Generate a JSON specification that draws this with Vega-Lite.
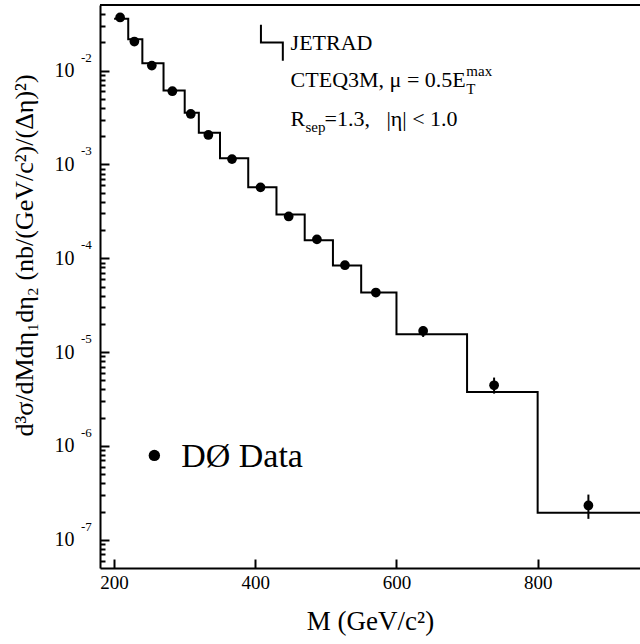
{
  "$schema": "https://vega.github.io/schema/vega-lite/v6.json",
  "width": 540,
  "height": 563,
  "autosize": {"type": "none"},
  "padding": {"left": 100, "top": 5, "right": 0, "bottom": 76},
  "config": {
    "view": {"stroke": null},
    "font": "Liberation Serif",
    "axis": {"grid": false, "domainColor": "black", "domainWidth": 2, "tickColor": "black", "tickWidth": 2, "labelColor": "black", "titleColor": "black", "labelFont": "Liberation Serif", "titleFont": "Liberation Serif", "titleFontWeight": "normal"}
  },
  "data": {"values": [{}]},
  "datasets": {
    "theory": [
      {"lo": 200, "hi": 220, "sigma": 0.0356},
      {"lo": 220, "hi": 240, "sigma": 0.0216},
      {"lo": 240, "hi": 270, "sigma": 0.0120},
      {"lo": 270, "hi": 300, "sigma": 0.00612},
      {"lo": 300, "hi": 320, "sigma": 0.00356},
      {"lo": 320, "hi": 350, "sigma": 0.00218},
      {"lo": 350, "hi": 390, "sigma": 0.00116},
      {"lo": 390, "hi": 430, "sigma": 0.000570},
      {"lo": 430, "hi": 470, "sigma": 0.000293},
      {"lo": 470, "hi": 510, "sigma": 0.000156},
      {"lo": 510, "hi": 550, "sigma": 0.0000838},
      {"lo": 550, "hi": 600, "sigma": 0.0000431},
      {"lo": 600, "hi": 700, "sigma": 0.0000155},
      {"lo": 700, "hi": 800, "sigma": 0.00000375},
      {"lo": 800, "hi": 1000, "sigma": 0.000000194}
    ],
    "d0": [
      {"m": 208.5, "val": 0.0368, "lo": 0.0362, "hi": 0.0374},
      {"m": 228.7, "val": 0.0204, "lo": 0.0200, "hi": 0.0208},
      {"m": 253.4, "val": 0.0113, "lo": 0.0111, "hi": 0.0115},
      {"m": 282.5, "val": 0.00603, "lo": 0.00592, "hi": 0.00614},
      {"m": 308.6, "val": 0.00345, "lo": 0.00338, "hi": 0.00352},
      {"m": 333.5, "val": 0.00206, "lo": 0.00202, "hi": 0.00210},
      {"m": 367.0, "val": 0.00114, "lo": 0.00112, "hi": 0.00116},
      {"m": 407.4, "val": 0.000570, "lo": 0.000558, "hi": 0.000582},
      {"m": 447.3, "val": 0.000279, "lo": 0.000272, "hi": 0.000286},
      {"m": 487.3, "val": 0.000159, "lo": 0.000155, "hi": 0.000163},
      {"m": 527.0, "val": 0.0000843, "lo": 0.0000815, "hi": 0.0000871},
      {"m": 570.8, "val": 0.0000431, "lo": 0.0000405, "hi": 0.0000460},
      {"m": 637.8, "val": 0.0000168, "lo": 0.0000145, "hi": 0.0000188},
      {"m": 738.3, "val": 0.00000443, "lo": 0.00000361, "hi": 0.00000535},
      {"m": 871.9, "val": 0.000000232, "lo": 0.000000167, "hi": 0.000000303}
    ],
    "exps": [
      {"v": 0.01, "e": "-2"},
      {"v": 0.001, "e": "-3"},
      {"v": 0.0001, "e": "-4"},
      {"v": 0.00001, "e": "-5"},
      {"v": 0.000001, "e": "-6"},
      {"v": 0.0000001, "e": "-7"}
    ],
    "glyph": [
      {"k": 1, "m": 408, "s": 0.0308},
      {"k": 2, "m": 408, "s": 0.0199},
      {"k": 3, "m": 439, "s": 0.0199},
      {"k": 4, "m": 439, "s": 0.0127}
    ]
  },
  "layer": [
    {
      "data": {"name": "theory"},
      "transform": [{"fold": ["lo", "hi"], "as": ["edge", "m"]}],
      "mark": {"type": "line", "color": "black", "strokeWidth": 2, "clip": true},
      "encoding": {
        "x": {
          "field": "m", "type": "quantitative",
          "scale": {"domain": [180, 945], "nice": false, "zero": false},
          "axis": {"values": [200, 400, 600, 800], "tickSize": -9, "labelFontSize": 19, "labelPadding": 14, "title": "M (GeV/c²)", "titleFontSize": 27, "titleBaseline": "alphabetic", "titleY": 61}
        },
        "y": {
          "field": "sigma", "type": "quantitative",
          "scale": {"type": "log", "domain": [5e-8, 5e-2], "nice": false},
          "axis": {
            "values": [6e-8, 7e-8, 8e-8, 9e-8, 1e-7, 2e-7, 3e-7, 4e-7, 5e-7, 6e-7, 7e-7, 8e-7, 9e-7, 1e-6, 2e-6, 3e-6, 4e-6, 5e-6, 6e-6, 7e-6, 8e-6, 9e-6, 1e-5, 2e-5, 3e-5, 4e-5, 5e-5, 6e-5, 7e-5, 8e-5, 9e-5, 1e-4, 2e-4, 3e-4, 4e-4, 5e-4, 6e-4, 7e-4, 8e-4, 9e-4, 1e-3, 2e-3, 3e-3, 4e-3, 5e-3, 6e-3, 7e-3, 8e-3, 9e-3, 1e-2, 2e-2, 3e-2, 4e-2],
            "labelExpr": "abs(log(datum.value)/LN10 - round(log(datum.value)/LN10)) < 0.01 ? '10' : ''",
            "tickSize": {"condition": {"test": "abs(log(datum.value)/LN10 - round(log(datum.value)/LN10)) < 0.01", "value": -9}, "value": -5},
            "labelFontSize": 20, "labelPadding": 35, "labelOverlap": false,
            "title": "d³σ/dMdη₁dη₂ (nb/(GeV/c²)/(Δη)²)", "titleFontSize": 26, "titleAngle": -90, "titleBaseline": "alphabetic", "titleAlign": "center", "titleX": -68, "titleY": 250
          }
        },
        "order": [{"field": "m", "type": "quantitative"}, {"field": "sigma", "type": "quantitative", "sort": "descending"}]
      }
    },
    {
      "mark": {"type": "rule", "color": "black", "strokeWidth": 2},
      "encoding": {"y": {"datum": 0.05}}
    },
    {
      "data": {"name": "d0"},
      "mark": {"type": "rule", "color": "black", "strokeWidth": 2},
      "encoding": {
        "x": {"field": "m", "type": "quantitative"},
        "y": {"field": "lo", "type": "quantitative"},
        "y2": {"field": "hi"}
      }
    },
    {
      "data": {"name": "d0"},
      "mark": {"type": "circle", "color": "black", "opacity": 1, "size": 95},
      "encoding": {
        "x": {"field": "m", "type": "quantitative"},
        "y": {"field": "val", "type": "quantitative"}
      }
    },
    {
      "data": {"name": "exps"},
      "mark": {"type": "text", "align": "left", "baseline": "middle", "fontSize": 13, "dx": -19, "dy": -13, "color": "black"},
      "encoding": {
        "x": {"datum": 180},
        "y": {"field": "v", "type": "quantitative"},
        "text": {"field": "e"}
      }
    },
    {
      "data": {"name": "glyph"},
      "mark": {"type": "line", "color": "black", "strokeWidth": 2},
      "encoding": {
        "x": {"field": "m", "type": "quantitative"},
        "y": {"field": "s", "type": "quantitative"},
        "order": {"field": "k", "type": "quantitative"}
      }
    },
    {
      "mark": {"type": "text", "align": "left", "baseline": "alphabetic", "fontSize": 22, "color": "black", "text": "JETRAD"},
      "encoding": {"x": {"datum": 450}, "y": {"datum": 0.01663}}
    },
    {
      "mark": {"type": "text", "align": "left", "baseline": "alphabetic", "fontSize": 22, "color": "black", "text": "CTEQ3M, μ = 0.5E"},
      "encoding": {"x": {"datum": 450}, "y": {"datum": 0.00665}}
    },
    {
      "mark": {"type": "text", "align": "left", "baseline": "alphabetic", "fontSize": 15, "color": "black", "text": "max"},
      "encoding": {"x": {"datum": 699}, "y": {"datum": 0.00878}}
    },
    {
      "mark": {"type": "text", "align": "left", "baseline": "alphabetic", "fontSize": 15, "color": "black", "text": "T"},
      "encoding": {"x": {"datum": 699}, "y": {"datum": 0.00564}}
    },
    {
      "mark": {"type": "text", "align": "left", "baseline": "alphabetic", "fontSize": 22, "color": "black", "text": "R"},
      "encoding": {"x": {"datum": 450}, "y": {"datum": 0.00257}}
    },
    {
      "mark": {"type": "text", "align": "left", "baseline": "alphabetic", "fontSize": 15, "color": "black", "text": "sep"},
      "encoding": {"x": {"datum": 471}, "y": {"datum": 0.00222}}
    },
    {
      "mark": {"type": "text", "align": "left", "baseline": "alphabetic", "fontSize": 22, "color": "black", "text": "=1.3,\u00a0\u00a0\u00a0|η| < 1.0"},
      "encoding": {"x": {"datum": 498}, "y": {"datum": 0.00257}}
    },
    {
      "mark": {"type": "circle", "color": "black", "opacity": 1, "size": 130},
      "encoding": {"x": {"datum": 257}, "y": {"datum": 7.92e-7}}
    },
    {
      "mark": {"type": "text", "align": "left", "baseline": "alphabetic", "fontSize": 34, "color": "black", "text": "DØ Data"},
      "encoding": {"x": {"datum": 295}, "y": {"datum": 5.94e-7}}
    }
  ]
}
